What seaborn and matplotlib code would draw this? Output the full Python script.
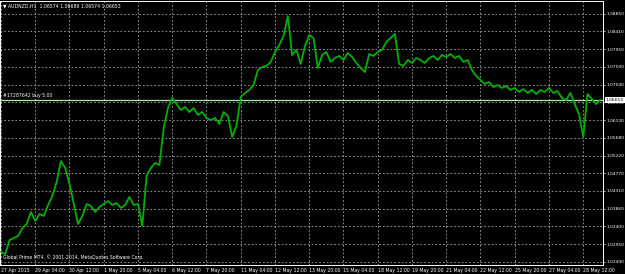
import matplotlib
matplotlib.use("Agg")
import matplotlib.pyplot as plt
import matplotlib.transforms as mtransforms
import numpy as np
import pandas as pd
import seaborn as sns

# ---- data ----
bar_step = 4
closes = [
    1.02745, 1.02694, 1.03053, 1.03104, 1.03156, 1.03361, 1.03463, 1.03771, 1.03540, 1.03720,
    1.03669, 1.03951, 1.04182, 1.04541, 1.05079, 1.04900, 1.04490, 1.03976, 1.03463, 1.03669,
    1.03976, 1.03925, 1.03771, 1.03900, 1.03976, 1.04053, 1.03951, 1.04002, 1.03874, 1.03951,
    1.04156, 1.03951, 1.03976, 1.03412, 1.04695, 1.04900, 1.05028, 1.04977, 1.05926, 1.06439,
    1.06695, 1.06541, 1.06388, 1.06465, 1.06336, 1.06439, 1.06259, 1.06336, 1.06182, 1.06131,
    1.06182, 1.06029, 1.06336, 1.06234, 1.05695, 1.05977, 1.06721, 1.06824, 1.06901, 1.07029,
    1.07414, 1.07491, 1.07516, 1.07619, 1.07875, 1.08055, 1.08286, 1.08799, 1.07798, 1.07927,
    1.07568, 1.08029, 1.08311, 1.08234, 1.07465, 1.07798, 1.07875, 1.07619, 1.07721, 1.07773,
    1.07670, 1.07850, 1.07747, 1.07593, 1.07465, 1.07362, 1.07824, 1.07773, 1.07875, 1.07927,
    1.08132, 1.08234, 1.08337, 1.07568, 1.07516, 1.07670, 1.07593, 1.07721, 1.07670, 1.07593,
    1.07721, 1.07773, 1.07670, 1.07798, 1.07747, 1.07824, 1.07721, 1.07773, 1.07619, 1.07670,
    1.07414, 1.07260, 1.07157, 1.07055, 1.07106, 1.06978, 1.07029, 1.06952, 1.07003, 1.06901,
    1.06952, 1.06849, 1.06926, 1.06824, 1.06901, 1.06798, 1.06901, 1.06849, 1.06952, 1.06824,
    1.06875, 1.06695, 1.06644, 1.06824, 1.06541, 1.06285, 1.05695, 1.06798, 1.06670, 1.06541,
    1.06653,
]
bars = [i * bar_step for i in range(len(closes))]

price_ticks = [1.08850, 1.08410, 1.07950, 1.07500, 1.07040, 1.06590, 1.06130, 1.05680,
               1.05220, 1.04770, 1.04310, 1.03860, 1.03400, 1.02950, 1.02490]
price_tick_labels = ["1.08850", "1.08410", "1.07950", "1.07500", "1.07040", "1.06590", "1.06130",
                     "1.05680", "1.05220", "1.04770", "1.04310", "1.03860", "1.03400", "1.02950",
                     "1.02490"]
date_ticks = [i * 32 for i in range(18)]
date_labels = ["27 Apr 2015", "29 Apr 04:00", "30 Apr 12:00", "1 May 20:00", "5 May 04:00",
               "6 May 12:00", "7 May 20:00", "11 May 04:00", "12 May 12:00", "13 May 20:00",
               "15 May 04:00", "18 May 12:00", "19 May 20:00", "21 May 04:00", "22 May 12:00",
               "25 May 20:00", "27 May 04:00", "28 May 12:00"]
current_price = 1.06653
current_label = "1.06653"
title_text = "\u25bc AUDNZD,H1  1.06574 1.06689 1.06574 1.06653"
order_text = "#17287642 buy 5.00"
footer_text = "Global Prime MT4, \u00a9 2001-2014, MetaQuotes Software Corp."

df = pd.DataFrame({"bar": bars, "close": closes})

# ---- style ----
sns.set_style("dark")
plt.rcParams["font.family"] = ["DejaVu Sans"]
FS = 3.2
FSX = 3.3

W, H = 625, 274
fig = plt.figure(figsize=(W / 100, H / 100), dpi=100, facecolor="black")
ax = fig.add_axes([0, (H - 265) / H, 603 / W, (265 - 1) / H])
ax.set_facecolor("black")

px_per_bar = 1.0703
ax.set_xlim(-1 / px_per_bar, (603 - 1) / px_per_bar)
ax.set_ylim(1.02412, 1.09183)

# grid
for yv in price_ticks:
    ax.axhline(yv, color="#a8a8a8", lw=0.6, ls=(0, (2, 2.5)), zorder=1)
for xv in date_ticks:
    ax.axvline(xv, color="#a8a8a8", lw=0.6, ls=(0, (2, 2.5)), zorder=1)

# current price / order line
ax.axhline(current_price, color="#a8f0a8", lw=0.9, zorder=2)

sns.lineplot(data=df, x="bar", y="close", ax=ax, color="#00b000", lw=1.3, zorder=3)

ax.set_xlabel("")
ax.set_ylabel("")
ax.yaxis.tick_right()
ax.set_yticks(price_ticks)
ax.set_yticklabels(price_tick_labels)
ax.set_xticks(date_ticks)
ax.set_xticklabels(date_labels, ha="left")
ax.tick_params(axis="y", colors="white", labelcolor="white", labelsize=FS, length=1.5, width=0.5, pad=0.8)
ax.tick_params(axis="x", colors="white", labelcolor="white", labelsize=FSX, length=1.5, width=0.5, pad=0.6)
for s in ax.spines.values():
    s.set_color("white")
    s.set_linewidth(0.7)
    s.set_visible(True)

# texts
ax.text(3 / 603, 1 - 5 / 264, title_text, transform=ax.transAxes, color="white",
        fontsize=FSX, va="center", ha="left", family=["DejaVu Sans"])
ax.text(3 / 603, 8 / 264, footer_text, transform=ax.transAxes, color="white",
        fontsize=FSX, va="center", ha="left")
trans = mtransforms.blended_transform_factory(ax.transAxes, ax.transData)
ax.text(3 / 603, current_price + 0.0011, order_text, transform=trans, color="white",
        fontsize=FSX, va="center", ha="left")
ax.text(1.0 + 3 / 603, current_price, current_label, transform=trans, color="black",
        fontsize=FS, va="center", ha="left", zorder=10, clip_on=False,
        bbox=dict(boxstyle="square,pad=0.2", fc="white", ec="white", lw=0))

fig.savefig("out.png", dpi=100, facecolor="black")
